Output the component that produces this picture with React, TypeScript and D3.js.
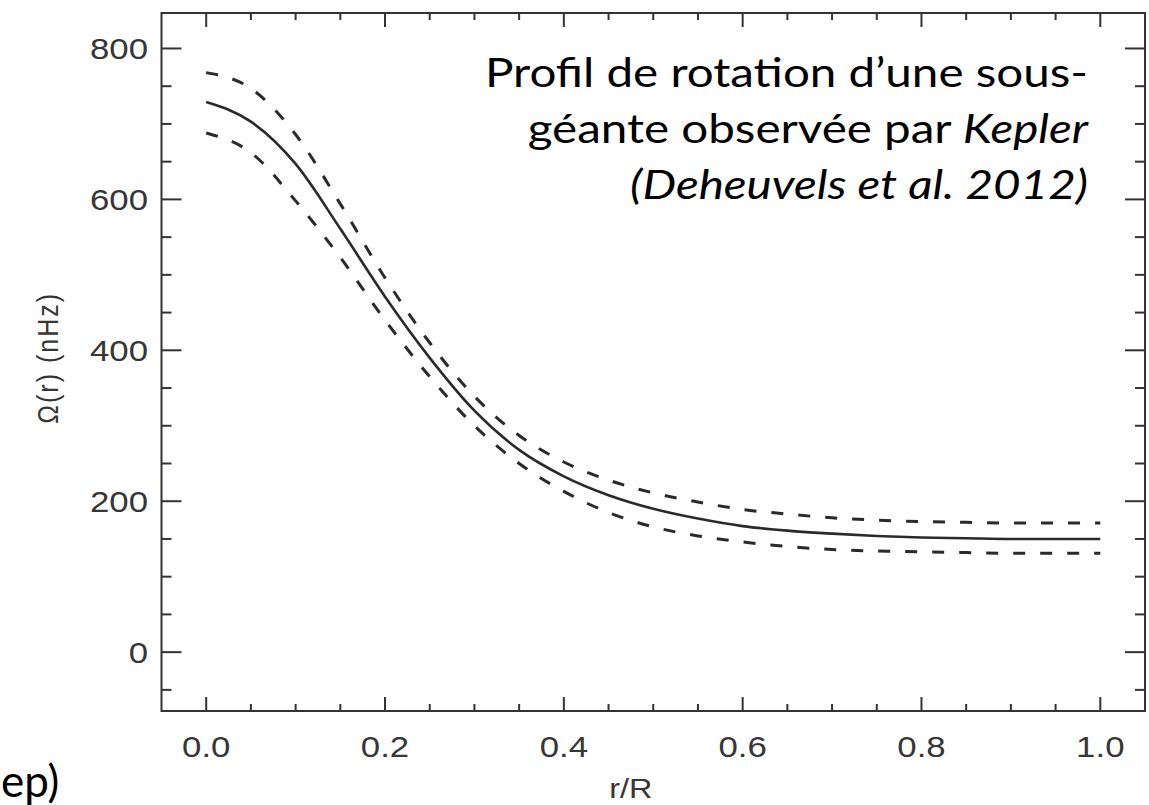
import React from "react";
import * as d3 from "d3";

const radius = [0, 0.05, 0.1, 0.15, 0.2, 0.25, 0.3, 0.35, 0.4, 0.45, 0.5, 0.55, 0.6, 0.65, 0.7, 0.75, 0.8, 0.85, 0.9, 0.95, 1.0];
const omegaMean = [729, 703, 647, 561, 471, 390, 320, 268, 233, 208, 190, 177, 167, 161, 157, 154, 152, 151, 150, 150, 150];
const omegaUpper = [768, 747, 686, 594, 496, 410, 339, 287, 252, 228, 211, 199, 189, 183, 178, 175, 173, 172, 171, 171, 171];
const omegaLower = [688, 662, 598, 523, 440, 365, 300, 250, 213, 185, 166, 154, 146, 140, 136, 134, 133, 132, 131, 131, 131];

const xMajorTicks = [0, 0.2, 0.4, 0.6, 0.8, 1.0];
const xTickLabels = ["0.0", "0.2", "0.4", "0.6", "0.8", "1.0"];
const yMajorTicks = [0, 200, 400, 600, 800];
const yTickLabels = ["0", "200", "400", "600", "800"];

const annotationLines = [
  [{ t: "Profil de rotation d\u2019une sous-", i: false }],
  [{ t: "géante observée par ", i: false }, { t: "Kepler", i: true }],
  [{ t: "(Deheuvels et al. 2012)", i: true }],
];

export default function App() {
  const W = 1149, H = 805;
  const left = 161.5, right = 1145, top = 13, bottom = 711;
  const x = d3.scaleLinear().domain([-0.05, 1.05]).range([left, right]);
  const y = d3.scaleLinear().domain([-78, 847]).range([bottom, top]);

  const line = (vals: number[]) =>
    d3.line<number>()
      .x((_, i) => x(radius[i]))
      .y((v) => y(v))
      .curve(d3.curveMonotoneX)(vals) || "";

  const xMinor = d3.range(-1, 22).map((k) => k * 0.05).filter((v) => x(v) > left + 1 && x(v) < right - 1 && !xMajorTicks.some((m) => Math.abs(m - v) < 1e-6));
  const yMinor = d3.range(-1, 17).map((k) => k * 50).filter((v) => y(v) < bottom - 1 && y(v) > top + 1 && !yMajorTicks.includes(v));

  const axisColor = "#333";
  const lblColor = "#363636";
  const tickFont = "'Liberation Sans', Arial, sans-serif";
  const annFont = "Lato, 'Open Sans', sans-serif";

  return (
    <svg width={W} height={H} style={{ position: "absolute", left: 0, top: 0, background: "#fff" }}>
      <rect x={left} y={top} width={right - left} height={bottom - top} fill="none" stroke={axisColor} strokeWidth={2} />
      {xMajorTicks.map((v) => (
        <g key={"xm" + v}>
          <line x1={x(v)} x2={x(v)} y1={bottom} y2={bottom - 14} stroke={axisColor} strokeWidth={2} />
          <line x1={x(v)} x2={x(v)} y1={top} y2={top + 14} stroke={axisColor} strokeWidth={2} />
        </g>
      ))}
      {xMinor.map((v) => (
        <g key={"xn" + v}>
          <line x1={x(v)} x2={x(v)} y1={bottom} y2={bottom - 7} stroke={axisColor} strokeWidth={2} />
          <line x1={x(v)} x2={x(v)} y1={top} y2={top + 7} stroke={axisColor} strokeWidth={2} />
        </g>
      ))}
      {yMajorTicks.map((v) => (
        <g key={"ym" + v}>
          <line x1={left} x2={left + 20} y1={y(v)} y2={y(v)} stroke={axisColor} strokeWidth={2} />
          <line x1={right} x2={right - 20} y1={y(v)} y2={y(v)} stroke={axisColor} strokeWidth={2} />
        </g>
      ))}
      {yMinor.map((v) => (
        <g key={"yn" + v}>
          <line x1={left} x2={left + 10} y1={y(v)} y2={y(v)} stroke={axisColor} strokeWidth={2} />
          <line x1={right} x2={right - 10} y1={y(v)} y2={y(v)} stroke={axisColor} strokeWidth={2} />
        </g>
      ))}
      {xMajorTicks.map((v, i) => (
        <text key={"xl" + v} transform={`translate(${x(v)}, 757) scale(1.2, 1)`} textAnchor="middle" fontFamily={tickFont} fontSize={29} fill={lblColor}>
          {xTickLabels[i]}
        </text>
      ))}
      {yMajorTicks.map((v, i) => (
        <text key={"yl" + v} transform={`translate(148, ${y(v)}) scale(1.2, 1)`} dy="0.36em" textAnchor="end" fontFamily={tickFont} fontSize={29} fill={lblColor}>
          {yTickLabels[i]}
        </text>
      ))}
      <text transform={`translate(${x(0.475)}, 798) scale(1.2, 1)`} textAnchor="middle" fontFamily={tickFont} fontSize={27} fill={lblColor}>r/R</text>
      <text transform={`translate(58, ${y(390)}) scale(1.2, 1) rotate(-90)`} textAnchor="middle" fontFamily={tickFont} fontSize={25} letterSpacing={2} fill={lblColor}>
        {"\u03A9(r) (nHz)"}
      </text>

      <path d={line(omegaUpper)} fill="none" stroke="#2a2a2a" strokeWidth={3} strokeDasharray="12 15" />
      <path d={line(omegaLower)} fill="none" stroke="#2a2a2a" strokeWidth={3} strokeDasharray="12 15" />
      <path d={line(omegaMean)} fill="none" stroke="#2a2a2a" strokeWidth={2.6} />

      {annotationLines.map((ln, li) => (
        <text key={"an" + li} transform={`translate(1088, ${87 + li * 56}) scale(1.16, 1)`} textAnchor="end" fontFamily={annFont} fontSize={41} fill="#000">
          {ln.map((s, si) => (
            <tspan key={si} fontStyle={s.i ? "italic" : "normal"}>{s.t}</tspan>
          ))}
        </text>
      ))}

      <text x={1} y={797} fontFamily={annFont} fontSize={44} fill="#000">ep)</text>
    </svg>
  );
}
